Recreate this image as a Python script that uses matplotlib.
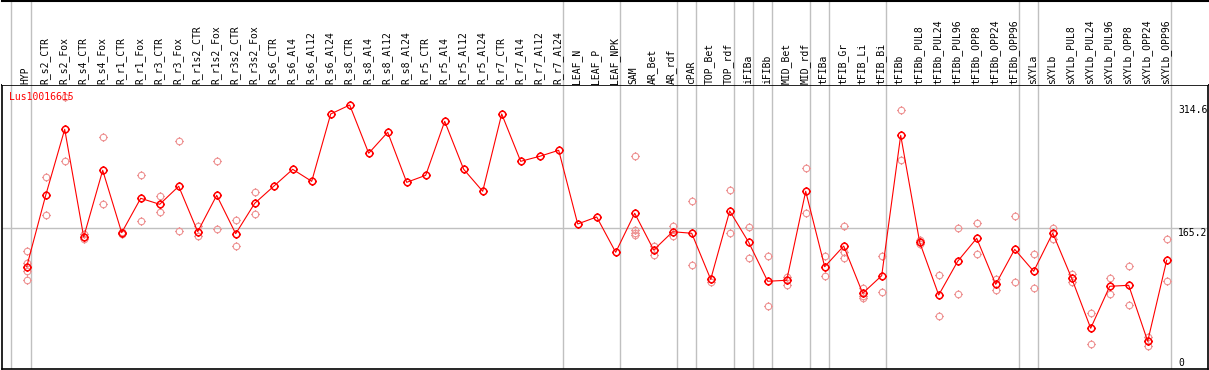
import matplotlib.pyplot as plt
from matplotlib.path import Path
import numpy as np

# Sample names (one column each)
labels = ['HYP', 'R_s2_CTR', 'R_s2_Fox', 'R_s4_CTR', 'R_s4_Fox', 'R_r1_CTR', 'R_r1_Fox',
          'R_r3_CTR', 'R_r3_Fox', 'R_r1s2_CTR', 'R_r1s2_Fox', 'R_r3s2_CTR', 'R_r3s2_Fox',
          'R_s6_CTR', 'R_s6_Al4', 'R_s6_Al12', 'R_s6_Al24', 'R_s8_CTR', 'R_s8_Al4',
          'R_s8_Al12', 'R_s8_Al24', 'R_r5_CTR', 'R_r5_Al4', 'R_r5_Al12', 'R_r5_Al24',
          'R_r7_CTR', 'R_r7_Al4', 'R_r7_Al12', 'R_r7_Al24', 'LEAF_N', 'LEAF_P', 'LEAF_NPK',
          'SAM', 'AR_Bet', 'AR_rdf', 'cPAR', 'TOP_Bet', 'TOP_rdf', 'iFIBa', 'iFIBb',
          'MID_Bet', 'MID_rdf', 'tFIBa', 'tFIB_Gr', 'tFIB_Li', 'tFIB_Bi', 'tFIBb',
          'tFIBb_PUL8', 'tFIBb_PUL24', 'tFIBb_PUL96', 'tFIBb_OPP8', 'tFIBb_OPP24',
          'tFIBb_OPP96', 'sXYLa', 'sXYLb', 'sXYLb_PUL8', 'sXYLb_PUL24', 'sXYLb_PUL96',
          'sXYLb_OPP8', 'sXYLb_OPP24', 'sXYLb_OPP96']

# Mean expression per sample
means = [118.2, 204.9, 285.1, 154.3, 235.3, 159.5, 201.3, 194.0, 215.9, 160.7, 204.9,
         158.3, 195.2, 215.9, 236.5, 221.9, 303.7, 314.6, 256.0, 281.5, 220.7, 229.2,
         294.8, 236.5, 209.8, 303.7, 246.2, 252.3, 259.6, 170.1, 178.6, 135.7, 183.1,
         138.5, 160.7, 158.8, 102.9, 185.9, 147.8, 100.5, 101.7, 209.8, 118.2, 143.3,
         85.9, 107.3, 277.8, 147.8, 83.8, 124.8, 152.7, 96.8, 139.3, 112.6, 159.1,
         104.1, 43.4, 94.4, 95.6, 27.6, 126.0]

# Replicate values per sample (empty = single value)
reps = [[136.9, 123.1, 113.3, 101.7], [227.5, 180.6], [324.0, 246.2], [157.9, 151.5],
        [275.4, 194.0], [160.5, 158.5], [229.2, 173.4], [203.7, 184.3], [270.5, 161.2],
        [168.0, 155.9], [246.2, 164.4], [174.6, 143.3], [208.6, 181.9],
        [], [], [], [], [], [], [], [], [], [], [], [], [], [], [], [], [], [], [],
        [252.3, 162.2, 159.1, 156.1], [143.7, 132.8], [168.0, 155.5], [197.6, 119.9],
        [103.6, 99.6], [211.0, 159.5], [166.1, 128.4], [130.8, 70.1], [106.1, 96.3],
        [237.7, 183.1], [130.8, 106.5], [167.3, 135.7, 128.4], [92.7, 82.6, 79.8],
        [130.8, 87.1], [308.2, 247.5], [150.3, 145.8], [107.8, 57.9], [164.8, 84.7],
        [170.9, 133.6], [103.3, 90.3], [179.4, 99.3], [133.6, 92.0], [165.6, 151.5],
        [109.7, 99.6], [61.6, 23.9], [104.1, 84.7], [118.7, 71.3], [33.2, 22.2],
        [151.9, 100.5]]

# Group separators (line drawn after these columns)
group_ends = [-1, 0, 28, 31, 34, 35, 37, 38, 39, 41, 42, 45, 52, 53, 60]
ref_value = 165.2
top_value = 314.6

W, H = 1209, 370
fig = plt.figure(figsize=(W / 100, H / 100), dpi=100)

# pixel layout
x_left, x_right = 1.5, 1207.5
y_top, y_bot = 85, 369
ax = fig.add_axes([x_left / W, (H - y_bot) / H, (x_right - x_left) / W, (y_bot - y_top) / H])
hdr = fig.add_axes([x_left / W, (H - y_top) / H, (x_right - x_left) / W, (y_top - 0.7) / H])

x0, dx = 26.7, 19.0  # pixel position of first column and spacing
xlim = ((x_left - x0) / dx, (x_right - x0) / dx)
py0, ppu = 364.0, 0.8232  # pixel of value 0, pixels per unit
ax.set_xlim(*xlim)
ax.set_ylim((py0 - y_bot) / ppu, (py0 - y_top) / ppu)
hdr.set_xlim(*xlim)
hdr.set_ylim(y_top, 0)

grey = '#c0c0c0'
for g in group_ends:
    ax.axvline(g + 0.2, color=grey, lw=1.0, zorder=1)
    hdr.axvline(g + 0.2, color=grey, lw=1.0, zorder=1)
ax.axhline(ref_value, color=grey, lw=1.0, zorder=1)

# circle with four small ticks
circ = Path.circle((0, 0), 0.75)
tv = [(0, 0.75), (0, 1), (0, -0.75), (0, -1), (0.75, 0), (1, 0), (-0.75, 0), (-1, 0)]
tc = [Path.MOVETO, Path.LINETO] * 4
sun = Path.make_compound_path(circ, Path(tv, tc))

x = np.arange(len(labels))
for i, r in enumerate(reps):
    if r:
        ax.plot([i] * len(r), r, ls='none', marker=sun, ms=6.3, mfc='none',
                mec='#ee9494', mew=0.8, zorder=2)
ax.plot(x, means, color='#ff0000', lw=0.8, marker=sun, ms=6.3, mfc='none',
        mec='#ff0000', mew=1.1, zorder=3)

mono = 'DejaVu Sans Mono'
for i, lab in enumerate(labels):
    hdr.text(i - 0.05, 83.8, lab, rotation=90, ha='center', va='bottom',
             family=mono, fontsize=7)

ax.text((9.3 - x_left) / (x_right - x_left), (y_bot - 92) / (y_bot - y_top), 'Lus10016615',
        transform=ax.transAxes, color='#ff0000', family=mono, fontsize=7,
        ha='left', va='top')

# value labels on the right
lx = (1178 - x_left) / (x_right - x_left)
bt = ax.get_yaxis_transform()
ax.text(lx, top_value, f'{top_value}', transform=bt, ha='left', va='top',
        family=mono, fontsize=7)
ax.text(lx, ref_value, f'{ref_value}', transform=bt, ha='left', va='top',
        family=mono, fontsize=7)
ax.annotate('0', xy=(lx, 0), xycoords='axes fraction', xytext=(0, 3),
            textcoords='offset pixels', ha='left', va='baseline', family=mono, fontsize=7)

for a in (ax, hdr):
    a.set_xticks([])
    a.set_yticks([])
for s in ax.spines.values():
    s.set_linewidth(1.2)
for side in ('left', 'right', 'bottom'):
    hdr.spines[side].set_visible(False)
hdr.spines['top'].set_linewidth(1.5)

fig.savefig('out.png', dpi=100)
